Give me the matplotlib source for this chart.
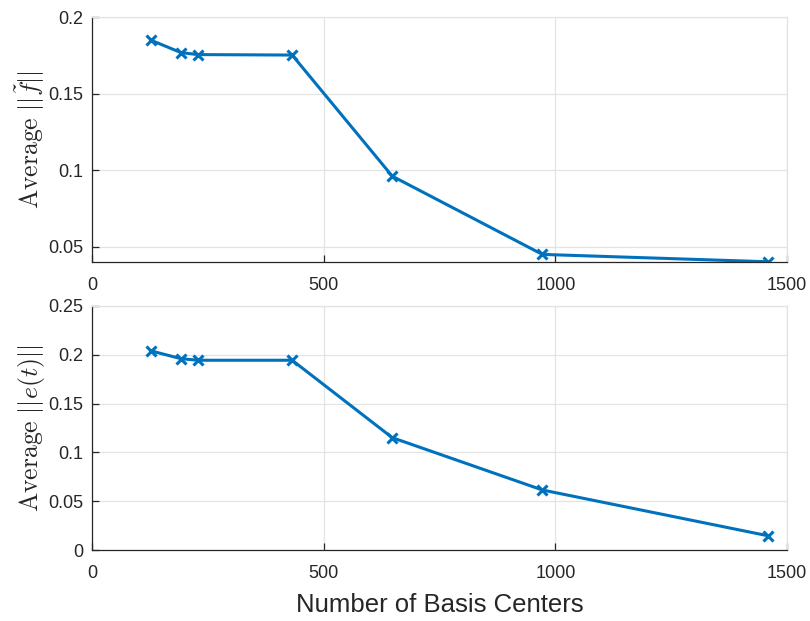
import matplotlib.pyplot as plt
from matplotlib.ticker import FuncFormatter

plt.rcParams["font.family"] = ["Liberation Sans", "DejaVu Sans"]
plt.rcParams["mathtext.fontset"] = "cm"

# number of basis centers and averaged norms
centers = [128, 192, 228, 432, 648, 972, 1458]
avg_f = [0.1848, 0.1768, 0.1755, 0.1752, 0.0961, 0.0450, 0.0402]
avg_e = [0.2039, 0.1960, 0.1944, 0.1944, 0.1151, 0.0615, 0.0147]

xticks = [0, 500, 1000, 1500]
f_ticks = [0.05, 0.1, 0.15, 0.2]
e_ticks = [0, 0.05, 0.1, 0.15, 0.2, 0.25]

blue = "#0072BD"
dark = "#262626"

fig = plt.figure(figsize=(8.1, 6.21), dpi=100)
ax1 = fig.add_axes([0.1136, 0.578, 0.858, 0.3945])
ax2 = fig.add_axes([0.1136, 0.1143, 0.858, 0.393])


def style(ax, yticks, ylim):
    ax.set_xlim(0, 1500)
    ax.set_ylim(*ylim)
    ax.set_xticks(xticks)
    ax.set_yticks(yticks)
    ax.yaxis.set_major_formatter(FuncFormatter(lambda v, p: f"{v:g}"))
    ax.grid(True, color="#E3E3E3", linewidth=0.9)
    ax.set_axisbelow(True)
    for side in ["top", "right"]:
        ax.spines[side].set_color("#E3E3E3")
        ax.spines[side].set_linewidth(0.9)
    for side in ["left", "bottom"]:
        ax.spines[side].set_color(dark)
        ax.spines[side].set_linewidth(0.9)
    ax.tick_params(direction="in", length=5, width=0.9, color=dark,
                   labelcolor=dark, labelsize=13, pad=6)
    ax.tick_params(axis="x", pad=11)


ax1.plot(centers, avg_f, color=blue, linewidth=2.2, marker="x",
         markersize=7, markeredgewidth=2.2)
style(ax1, f_ticks, (0.04, 0.2))
ax1.set_ylabel(r"$\mathrm{Average}\ ||\tilde{f}||$", fontsize=18.5, color=dark, labelpad=1)

ax2.plot(centers, avg_e, color=blue, linewidth=2.2, marker="x",
         markersize=7, markeredgewidth=2.2)
style(ax2, e_ticks, (0, 0.25))
ax2.set_ylabel(r"$\mathrm{Average}\ ||e(t)||$", fontsize=18.5, color=dark, labelpad=1)
ax2.set_xlabel("Number of Basis Centers", fontsize=18.5, color=dark, labelpad=8)

fig.savefig("out.png", dpi=100)
